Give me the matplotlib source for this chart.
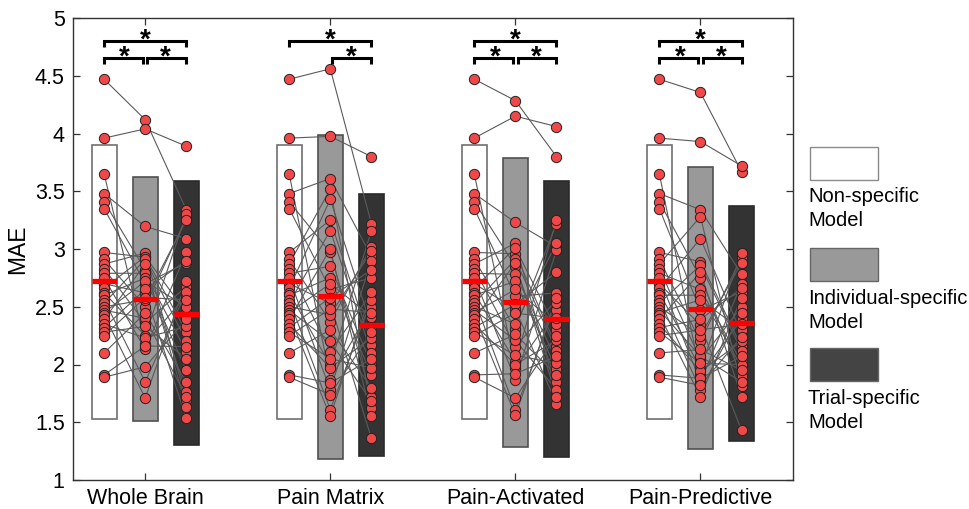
import matplotlib
matplotlib.use('Agg')
import matplotlib.pyplot as plt
from matplotlib.patches import Rectangle

plt.rcParams['font.family'] = ['Liberation Sans', 'DejaVu Sans']

# ---------------- data ----------------
regions = ['Whole Brain', 'Pain Matrix', 'Pain-Activated', 'Pain-Predictive']
model_names = [['Non-specific', 'Model'], ['Individual-specific', 'Model'], ['Trial-specific', 'Model']]

# per-subject MAE (same subject order in every list)
nonspecific = [4.47, 3.96, 3.65, 3.48, 3.41, 3.35, 2.97, 2.91, 2.87, 2.83, 2.79, 2.75, 2.70, 2.66, 2.62,
               2.60, 2.56, 2.53, 2.50, 2.47, 2.45, 2.43, 2.39, 2.35, 2.32, 2.28, 2.25, 2.10, 1.91, 1.89]

indiv_wb = [4.12, 4.04, 2.18, 3.195, 2.82, 2.70, 2.93, 2.50, 2.965, 2.36, 2.79, 2.13, 2.62, 2.935, 2.25,
            2.75, 1.85, 2.91, 2.56, 2.40, 2.72, 1.71, 2.87, 2.23, 2.65, 2.33, 2.58, 2.445, 2.16, 1.98]
indiv_pm = [4.56, 3.975, 1.87, 3.61, 2.97, 2.65, 3.25, 2.37, 3.52, 2.11, 2.85, 1.78, 2.53, 3.43, 1.995,
            2.75, 1.61, 3.16, 2.43, 2.20, 2.70, 1.55, 3.00, 1.97, 2.58, 2.05, 2.48, 2.30, 1.84, 1.74]
indiv_pa = [4.285, 4.15, 1.97, 3.23, 2.85, 2.59, 2.96, 2.31, 3.05, 2.155, 2.78, 1.87, 2.48, 3.01, 2.025,
            2.72, 1.61, 2.91, 2.35, 2.21, 2.65, 1.56, 2.88, 2.00, 2.52, 2.08, 2.445, 2.26, 1.92, 1.71]
indiv_pp = [4.355, 3.93, 1.91, 3.34, 2.75, 2.47, 2.89, 2.20, 3.28, 2.04, 2.65, 1.85, 2.34, 3.09, 1.97,
            2.60, 1.78, 2.86, 2.25, 2.07, 2.56, 1.72, 2.80, 1.94, 2.39, 2.01, 2.30, 2.13, 1.88, 1.82]

trial_wb = [3.34, 3.89, 2.60, 3.09, 1.765, 2.88, 2.285, 3.27, 1.69, 2.675, 2.11, 2.97, 1.535, 2.45, 3.30,
            1.95, 2.63, 2.20, 3.25, 1.72, 2.50, 2.72, 1.635, 2.33, 2.90, 2.05, 2.56, 1.85, 2.155, 2.39]
trial_pm = [3.22, 3.80, 2.50, 2.935, 1.72, 2.75, 2.17, 3.02, 1.62, 2.62, 2.00, 2.90, 1.36, 2.33, 3.16,
            1.91, 2.56, 2.10, 2.98, 1.68, 2.415, 2.63, 1.55, 2.23, 2.82, 1.97, 2.45, 1.80, 2.05, 2.28]
trial_pa = [3.80, 4.06, 2.47, 3.02, 1.85, 2.62, 2.155, 3.22, 1.75, 2.56, 2.04, 2.99, 1.66, 2.30, 3.25,
            1.96, 2.53, 2.12, 3.05, 1.78, 2.35, 2.58, 1.72, 2.21, 2.80, 2.01, 2.40, 1.91, 2.07, 2.25]
trial_pp = [3.67, 3.72, 2.39, 2.78, 1.90, 2.63, 2.155, 2.93, 1.81, 2.50, 2.02, 2.70, 1.43, 2.27, 2.965,
            1.98, 2.45, 2.12, 2.88, 1.85, 2.30, 2.58, 1.72, 2.20, 2.66, 2.00, 2.35, 1.95, 2.07, 2.24]

# group means (red bars) per region: [non-specific, individual, trial]
mean_nonspec = [2.72, 2.72, 2.72, 2.72]
mean_indiv = [2.57, 2.59, 2.54, 2.48]
mean_trial = [2.44, 2.345, 2.39, 2.355]

# floating bar extents per region
bar_low_nonspec = [1.53, 1.53, 1.53, 1.53]
bar_high_nonspec = [3.90, 3.90, 3.90, 3.90]
bar_low_indiv = [1.51, 1.18, 1.29, 1.265]
bar_high_indiv = [3.62, 3.99, 3.79, 3.71]
bar_low_trial = [1.30, 1.21, 1.20, 1.34]
bar_high_trial = [3.585, 3.48, 3.585, 3.37]

# significant pairs per region (0 = non-specific, 1 = individual, 2 = trial)
sig_pairs = [[(0, 2), (0, 1), (1, 2)],
             [(0, 2), (1, 2)],
             [(0, 2), (0, 1), (1, 2)],
             [(0, 2), (0, 1), (1, 2)]]

yticks = [1, 1.5, 2, 2.5, 3, 3.5, 4, 4.5, 5]

# ---------------- figure ----------------
W, H = 969, 509
fig = plt.figure(figsize=(W / 100, H / 100), dpi=100)
ax = fig.add_axes([73 / W, 1 - 480 / H, 720 / W, 462 / H])

indiv = [indiv_wb, indiv_pm, indiv_pa, indiv_pp]
trial = [trial_wb, trial_pm, trial_pa, trial_pp]
face = ['#ffffff', '#999999', '#333333']
edge = ['#707070', '#505050', '#2a2a2a']
offset = 0.222
bw = 0.135

for g in range(len(regions)):
    xc = g + 1
    xs = [xc - offset, xc, xc + offset]
    cols = [nonspecific, indiv[g], trial[g]]
    lows = [bar_low_nonspec[g], bar_low_indiv[g], bar_low_trial[g]]
    highs = [bar_high_nonspec[g], bar_high_indiv[g], bar_high_trial[g]]
    means = [mean_nonspec[g], mean_indiv[g], mean_trial[g]]
    for k in range(3):
        ax.bar(xs[k], highs[k] - lows[k], bottom=lows[k], width=bw, color=face[k],
               edgecolor=edge[k], linewidth=1.2, zorder=1)
    for i in range(len(nonspecific)):
        ax.plot(xs, [c[i] for c in cols], color='#5a5a5a', lw=0.8, zorder=2)
    for k in range(3):
        ax.plot([xs[k]] * len(cols[k]), cols[k], 'o', ms=7.4, mfc='#f04848', mec='#222222',
                mew=0.7, zorder=3, linestyle='none')
        ax.plot([xs[k] - bw / 2, xs[k] + bw / 2], [means[k], means[k]], color='#ff0000',
                lw=3.8, solid_capstyle='butt', zorder=4)
    # significance brackets
    for (i, j) in sig_pairs[g]:
        if j - i == 2:
            y = 4.80
            x1, x2 = xs[i], xs[j]
        else:
            y = 4.655
            x1, x2 = xs[i] + (0.012 if i == 1 else 0), xs[j] - (0.012 if j == 1 else 0)
        ax.plot([x1, x1, x2, x2], [y - 0.05, y, y, y - 0.05], color='black', lw=2.2,
                solid_capstyle='butt', solid_joinstyle='miter', zorder=5, clip_on=False)
        ax.text((xs[i] + xs[j]) / 2, y - 0.11, '*', ha='center', va='bottom', fontsize=20,
                fontweight='bold', zorder=5)

ax.set_xlim(0.61, 4.5)
ax.set_ylim(1, 5)
ax.set_xticks([1, 2, 3, 4])
ax.set_xticklabels(regions, fontsize=15.5)
ax.set_yticks(yticks)
ax.set_yticklabels([('%g' % v) for v in yticks], fontsize=15.5)
ax.set_ylabel('MAE', fontsize=16.5, labelpad=4)
ax.tick_params(direction='in', top=True, right=True, length=5, width=0.9, color='#333333', pad=6)
for s in ax.spines.values():
    s.set_linewidth(1.0)
    s.set_color('#333333')

# legend outside the axes
leg_top = [147, 248, 348]
for k in range(3):
    fig.add_artist(Rectangle((810 / W, 1 - (leg_top[k] + 33) / H), 68 / W, 33 / H,
                             transform=fig.transFigure, facecolor=face[k] if k != 2 else '#444444',
                             edgecolor='#8a8a8a' if k == 0 else '#666666', linewidth=1.0))
    fig.text(808 / W, 1 - (leg_top[k] + 50) / H, model_names[k][0], fontsize=14.5, va='center', ha='left')
    fig.text(808 / W, 1 - (leg_top[k] + 74) / H, model_names[k][1], fontsize=14.5, va='center', ha='left')

fig.savefig('out.png', dpi=100)
